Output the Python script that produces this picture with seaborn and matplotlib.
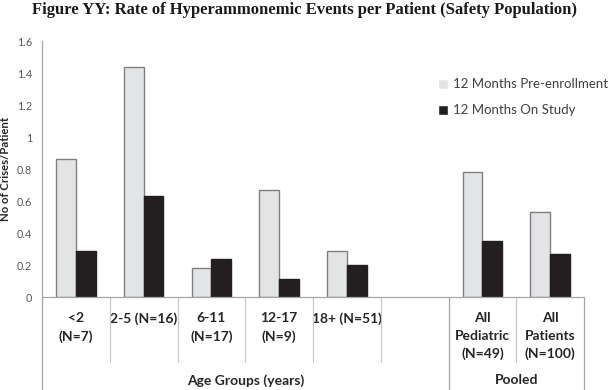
import matplotlib
matplotlib.use('Agg')

import matplotlib.pyplot as plt
import seaborn as sns
import pandas as pd

# --- data ---
slots = ['<2', '2-5', '6-11', '12-17', '18+', 'gap', 'All Pediatric', 'All Patients']
tick_labels = ['<2\n(N=7)', '2-5 (N=16)', '6-11\n(N=17)', '12-17\n(N=9)',
               '18+ (N=51)', '', 'All\nPediatric\n(N=49)', 'All\nPatients\n(N=100)']
groups = ['<2', '2-5', '6-11', '12-17', '18+', 'All Pediatric', 'All Patients']
pre_enrollment = [0.86, 1.44, 0.18, 0.67, 0.29, 0.78, 0.53]
on_study = [0.29, 0.63, 0.24, 0.11, 0.20, 0.35, 0.27]
series = ['12 Months Pre-enrollment', '12 Months On Study']
group_labels = ['Age Groups (years)', 'Pooled']

LIGHT = '#e3e4e6'
LIGHT_EDGE = '#7f7f7f'
DARK = '#231f20'
AXIS_GRAY = '#a6a6a6'
SEP_GRAY = '#c8c8c8'
TEXT_DARK = '#262626'

df = pd.DataFrame({
    'group': groups * 2,
    'series': [series[0]] * len(groups) + [series[1]] * len(groups),
    'value': pre_enrollment + on_study,
})

sns.set_style('white')
plt.rcParams['font.family'] = ['Lato', 'DejaVu Sans']

fig = plt.figure(figsize=(6.09, 3.90), dpi=100)
ax = fig.add_axes([42 / 609, 93 / 390, 542 / 609, 256 / 390])

sns.barplot(data=df, x='group', y='value', hue='series', order=slots,
            hue_order=series, palette=[LIGHT, DARK], width=0.58, gap=0,
            saturation=1, ax=ax)

for bar in ax.containers[0]:
    bar.set_edgecolor(LIGHT_EDGE)
    bar.set_linewidth(1.0)
for bar in ax.containers[1]:
    bar.set_edgecolor(DARK)
    bar.set_linewidth(1.0)

ax.set_xlim(-0.5, len(slots) - 0.5)
ax.set_ylim(0, 1.6)
ax.set_yticks([0, 0.2, 0.4, 0.6, 0.8, 1.0, 1.2, 1.4, 1.6])
ax.set_yticklabels(['0', '0.2', '0.4', '0.6', '0.8', '1', '1.2', '1.4', '1.6'])
ax.tick_params(axis='y', length=3, width=0.8, color=AXIS_GRAY, pad=4,
               labelsize=7.8, labelcolor='#595959')

ax.set_xticks(range(len(slots)))
ax.set_xticklabels(tick_labels, fontsize=10, fontweight='bold', color=TEXT_DARK,
                   linespacing=1.55)
ax.tick_params(axis='x', length=0, pad=11)
ax.set_xlabel('')
ax.set_ylabel('No of Crises/Patient', fontsize=8.2, fontweight='bold',
              color=TEXT_DARK)
ax.yaxis.set_label_coords(-0.058, 0.5)

for side in ('top', 'right'):
    ax.spines[side].set_visible(False)
for side in ('left', 'bottom'):
    ax.spines[side].set_color(AXIS_GRAY)
    ax.spines[side].set_linewidth(0.9)

# category separators below the axis
trans = ax.get_xaxis_transform()
for x in [i - 0.5 for i in range(len(slots) + 1)]:
    outer = x in (-0.5, 5.5, 7.5)
    ax.plot([x, x], [0, -0.363 if outer else -0.254], transform=trans,
            color=AXIS_GRAY if outer else SEP_GRAY, lw=0.9, clip_on=False)

ax.text(2.5, -0.325, group_labels[0], transform=trans, ha='center', va='center',
        fontsize=10, fontweight='bold', color=TEXT_DARK)
ax.text(6.5, -0.325, group_labels[1], transform=trans, ha='center', va='center',
        fontsize=10, fontweight='bold', color=TEXT_DARK)

leg = ax.legend(loc='upper left', bbox_to_anchor=(0.72, 0.875), frameon=False,
                fontsize=9.5, handlelength=0.8, handleheight=0.8,
                handletextpad=0.4, labelspacing=1.05, borderaxespad=0)
for t in leg.get_texts():
    t.set_color('#404040')

fig.suptitle('Figure YY: Rate of Hyperammonemic Events per Patient (Safety Population)',
             x=0.5, y=0.995, va='top', fontsize=12, fontweight='bold',
             family=['Liberation Serif', 'DejaVu Serif'], color='#1a1a1a')

fig.savefig('out.png', dpi=100)
